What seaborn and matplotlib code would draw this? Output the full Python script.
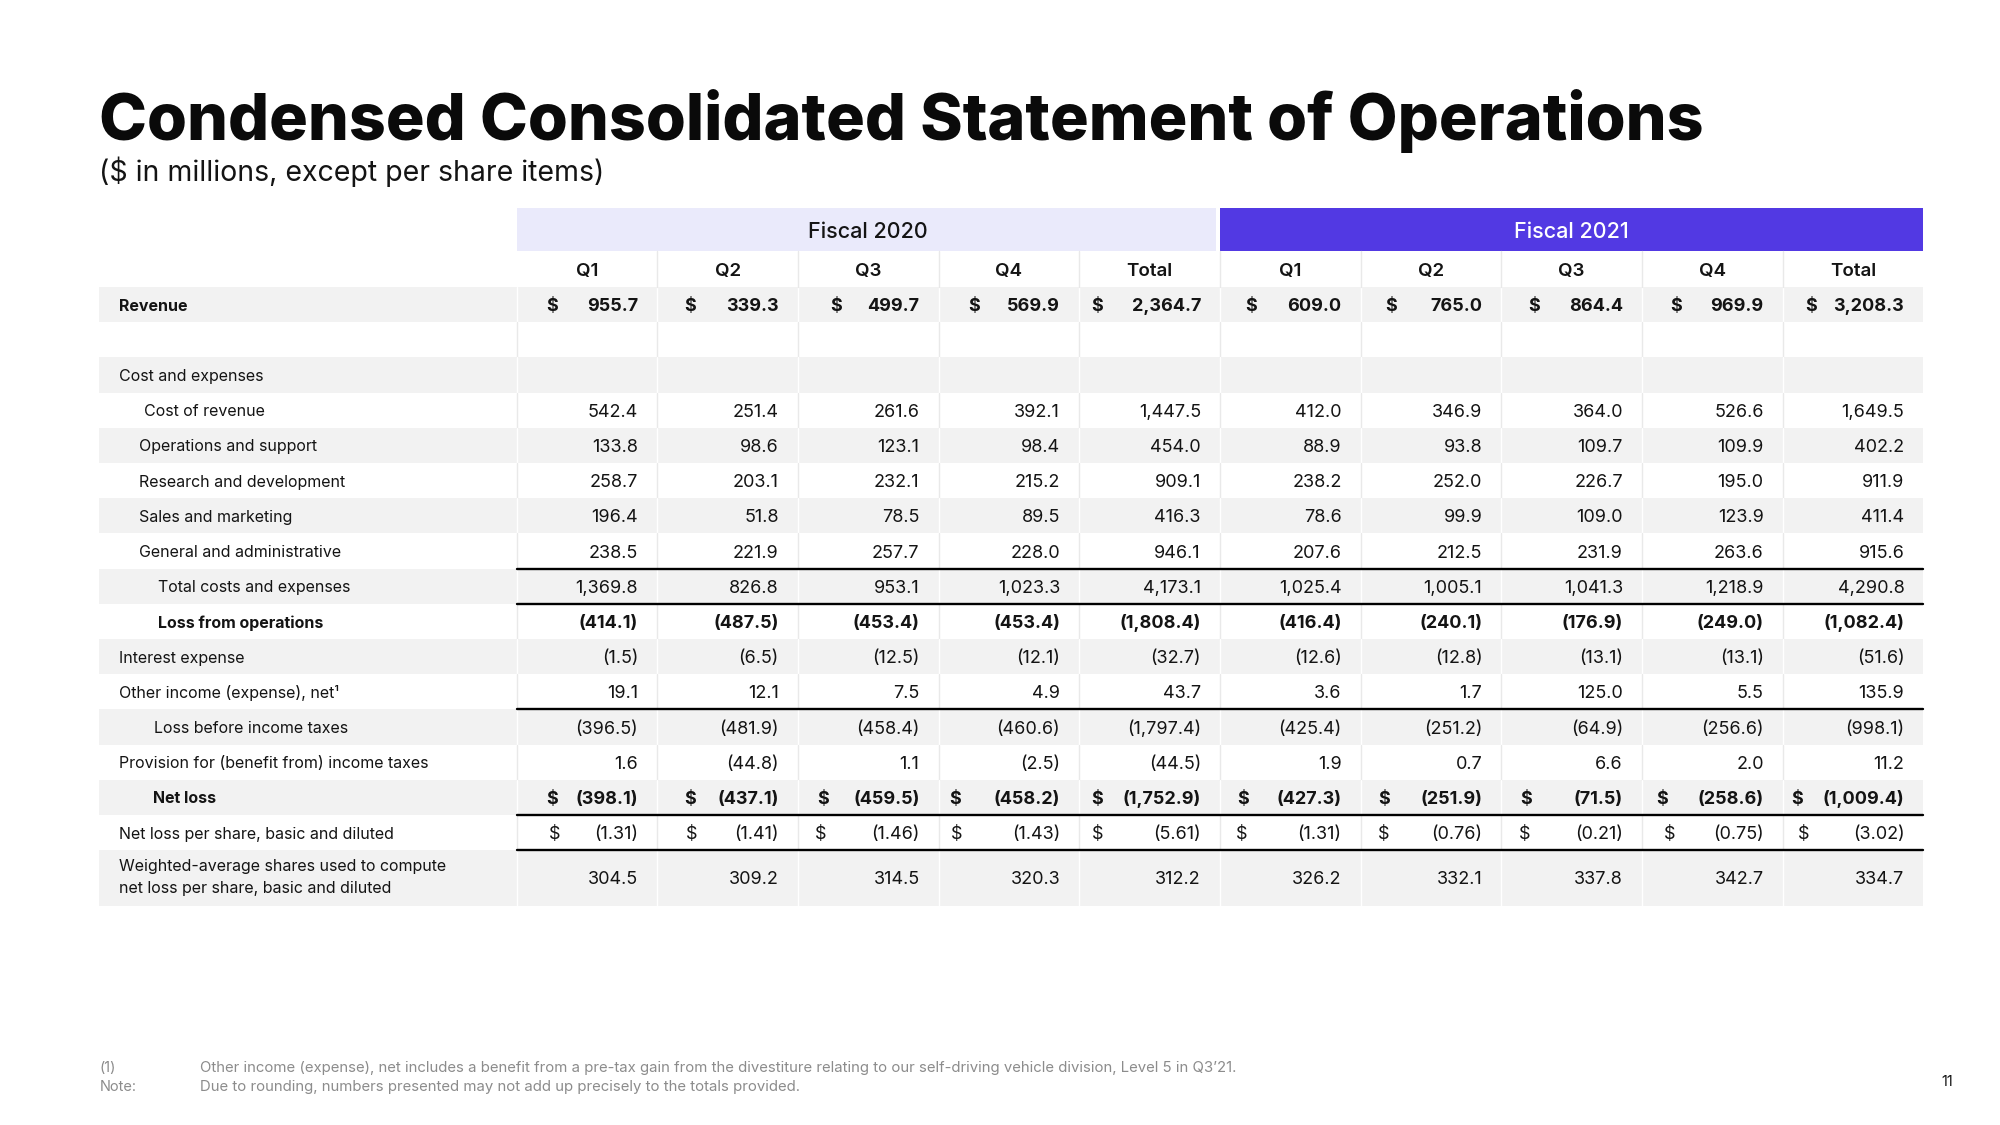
import matplotlib
matplotlib.use("Agg")
import matplotlib.pyplot as plt
from matplotlib.patches import Rectangle
import seaborn as sns

# ---------------- data ----------------
title = "Condensed Consolidated Statement of Operations"
subtitle = "($ in millions, except per share items)"
fiscal_groups = ["Fiscal 2020", "Fiscal 2021"]
period_labels = ["Q1", "Q2", "Q3", "Q4", "Total", "Q1", "Q2", "Q3", "Q4", "Total"]

revenue = [955.7, 339.3, 499.7, 569.9, 2364.7, 609.0, 765.0, 864.4, 969.9, 3208.3]
cost_of_revenue = [542.4, 251.4, 261.6, 392.1, 1447.5, 412.0, 346.9, 364.0, 526.6, 1649.5]
operations_support = [133.8, 98.6, 123.1, 98.4, 454.0, 88.9, 93.8, 109.7, 109.9, 402.2]
research_development = [258.7, 203.1, 232.1, 215.2, 909.1, 238.2, 252.0, 226.7, 195.0, 911.9]
sales_marketing = [196.4, 51.8, 78.5, 89.5, 416.3, 78.6, 99.9, 109.0, 123.9, 411.4]
general_admin = [238.5, 221.9, 257.7, 228.0, 946.1, 207.6, 212.5, 231.9, 263.6, 915.6]
total_costs = [1369.8, 826.8, 953.1, 1023.3, 4173.1, 1025.4, 1005.1, 1041.3, 1218.9, 4290.8]
loss_from_operations = [-414.1, -487.5, -453.4, -453.4, -1808.4, -416.4, -240.1, -176.9, -249.0, -1082.4]
interest_expense = [-1.5, -6.5, -12.5, -12.1, -32.7, -12.6, -12.8, -13.1, -13.1, -51.6]
other_income = [19.1, 12.1, 7.5, 4.9, 43.7, 3.6, 1.7, 125.0, 5.5, 135.9]
loss_before_taxes = [-396.5, -481.9, -458.4, -460.6, -1797.4, -425.4, -251.2, -64.9, -256.6, -998.1]
provision_taxes = [1.6, -44.8, 1.1, -2.5, -44.5, 1.9, 0.7, 6.6, 2.0, 11.2]
net_loss = [-398.1, -437.1, -459.5, -458.2, -1752.9, -427.3, -251.9, -71.5, -258.6, -1009.4]
net_loss_per_share = [-1.31, -1.41, -1.46, -1.43, -5.61, -1.31, -0.76, -0.21, -0.75, -3.02]
weighted_shares = [304.5, 309.2, 314.5, 320.3, 312.2, 326.2, 332.1, 337.8, 342.7, 334.7]

row_labels = [
    "Revenue", "", "Cost and expenses", "Cost of revenue", "Operations and support",
    "Research and development", "Sales and marketing", "General and administrative",
    "Total costs and expenses", "Loss from operations", "Interest expense",
    "Other income (expense), net¹", "Loss before income taxes",
    "Provision for (benefit from) income taxes", "Net loss",
    "Net loss per share, basic and diluted",
    "Weighted-average shares used to compute\nnet loss per share, basic and diluted",
]
row_values = [
    revenue, None, None, cost_of_revenue, operations_support, research_development,
    sales_marketing, general_admin, total_costs, loss_from_operations, interest_expense,
    other_income, loss_before_taxes, provision_taxes, net_loss, net_loss_per_share,
    weighted_shares,
]
footnote_keys = ["(1)", "Note:"]
footnote_texts = [
    "Other income (expense), net includes a benefit from a pre-tax gain from the divestiture relating to our self-driving vehicle division, Level 5 in Q3\u201921.",
    "Due to rounding, numbers presented may not add up precisely to the totals provided.",
]
page_number = "11"

# ---------------- styles ----------------
S = 2000 / 1568.0
row_indent = [15, 15, 15, 35, 31, 31, 31, 31, 46, 46, 15, 15, 43, 15, 42, 15, 15]
row_bold = [True, False, False, False, False, False, False, False, False, True,
            False, False, False, False, True, False, False]
row_shaded = [True, False, True, False, True, False, True, False, True, False,
              True, False, True, False, True, False, True]
row_decimals = [1] * 15 + [2, 1]
dollar_offsets = {
    0: [28, 26, 30, 28, 14, 24, 24, 26, 27, 22],
    14: [28, 26, 20, 13, 14, 18, 18, 19, 16, 11],
    15: [30, 27, 18, 14, 14, 17, 18, 18, 22, 16],
}
rule_above = [8, 9, 12, 15, 16]

sns.set_theme(style="white")
plt.rcParams["font.family"] = ["Inter", "DejaVu Sans"]

TXT = "#141414"
SHADE = "#F2F2F2"
LAV = "#EAEAFB"
PURPLE = "#5239E3"

fig = plt.figure(figsize=(20, 11.25), dpi=100)
ax = fig.add_axes([0, 0, 1, 1])
ax.set_xlim(0, 2000)
ax.set_ylim(1125, 0)
ax.axis("off")

label_left = 78 * S
col_left0 = 405 * S
col_w = 110.3 * S
ncols = len(period_labels)
table_right = col_left0 + ncols * col_w
band_top = 163 * S
band_bot = 197 * S
row_h = 27.6 * S
first_top = 225 * S

# title
ax.text(label_left, 140, title, fontsize=46.5, fontweight=800, color="#0a0a0a",
        ha="left", va="baseline")
ax.text(label_left, 181, subtitle, fontsize=20.5, color=TXT, ha="left", va="baseline")

# fiscal bands
half = ncols // 2
for g, name in enumerate(fiscal_groups):
    x0 = col_left0 + g * half * col_w
    w = half * col_w - (4 if g == 0 else 0)
    ax.add_patch(Rectangle((x0, band_top), w, band_bot - band_top,
                           facecolor=LAV if g == 0 else PURPLE, edgecolor="none"))
    ax.text(x0 + half * col_w / 2, (band_top + band_bot) / 2, name, fontsize=15.5,
            fontweight="medium", color=TXT if g == 0 else "white",
            ha="center", va="center_baseline")

# period header
for c, p in enumerate(period_labels):
    ax.text(col_left0 + (c + 0.5) * col_w, (band_bot + first_top) / 2, p, fontsize=13.5,
            fontweight="semibold", color=TXT, ha="center", va="center_baseline")
    if c > 0:
        ax.plot([col_left0 + c * col_w] * 2, [band_bot, first_top], color="#E9E9E9", lw=1)


def fmt(v, dec):
    s = f"{abs(v):,.{dec}f}"
    return f"({s})" if v < 0 else s


y = first_top
row_tops = []
for r, lab in enumerate(row_labels):
    multi = "\n" in lab
    h = row_h * (1.57 if multi else 1.0)
    row_tops.append(y)
    yc = y + h / 2
    if row_shaded[r]:
        ax.add_patch(Rectangle((label_left, y), table_right - label_left, h,
                               facecolor=SHADE, edgecolor="none", zorder=0))
    sep = "white" if row_shaded[r] else "#E9E9E9"
    for c in range(ncols):
        ax.plot([col_left0 + c * col_w] * 2, [y, y + h], color=sep, lw=1, zorder=1)
    fw = "bold" if row_bold[r] else "normal"
    ax.text(label_left + row_indent[r] * S, yc, lab, fontsize=11.5, fontweight=fw,
            color=TXT, ha="left", va="center" if multi else "center_baseline",
            linespacing=1.6)
    vals = row_values[r]
    if vals is not None:
        for c, v in enumerate(vals):
            xr = col_left0 + (c + 1) * col_w - 15 * S
            ax.text(xr, yc, fmt(v, row_decimals[r]), fontsize=13, fontweight=fw,
                    color=TXT, ha="right", va="center_baseline")
            if r in dollar_offsets:
                ax.text(col_left0 + c * col_w + dollar_offsets[r][c] * S, yc, "$",
                        fontsize=13, fontweight=fw, color=TXT, ha="center",
                        va="center_baseline")
    y += h

for r in rule_above:
    ax.plot([col_left0, table_right], [row_tops[r]] * 2, color="black", lw=1.7, zorder=3)

# footnotes
for i, (k, t) in enumerate(zip(footnote_keys, footnote_texts)):
    yy = 836 * S + i * 15 * S
    ax.text(label_left, yy, k, fontsize=10.5, color="#8C8C8C", ha="left", va="center_baseline")
    ax.text(157 * S, yy, t, fontsize=10.75, color="#8C8C8C", ha="left", va="center_baseline")
ax.text(1527 * S, 847 * S, page_number, fontsize=10.5, color=TXT, ha="center",
        va="center_baseline")

fig.savefig("out.png", dpi=100, facecolor="white")
